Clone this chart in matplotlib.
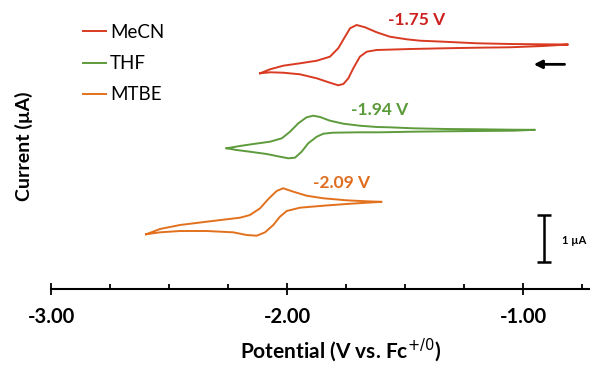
import matplotlib.pyplot as plt
from matplotlib.ticker import MultipleLocator, FixedLocator

plt.rcParams['font.family'] = ['Lato', 'DejaVu Sans']

# potentials (V vs Fc+/0) and currents (uA, with vertical offsets) read around each loop
mecn_v = [-2.114, -2.072, -2.016, -1.945, -1.874, -1.818, -1.783, -1.754, -1.733, -1.705,
          -1.669, -1.620, -1.564, -1.493, -1.436, -1.339, -1.196, -1.055, -0.915, -0.809,
          -0.915, -1.055, -1.196, -1.339, -1.479, -1.620, -1.662, -1.691, -1.719, -1.740,
          -1.761, -1.783, -1.818, -1.874, -1.945, -2.016, -2.072, -2.114]
mecn_i = [4.589, 4.674, 4.751, 4.802, 4.857, 4.943, 5.121, 5.368, 5.547, 5.617,
          5.568, 5.462, 5.368, 5.313, 5.283, 5.262, 5.228, 5.213, 5.206, 5.202,
          5.170, 5.143, 5.134, 5.121, 5.106, 5.085, 5.049, 4.943, 4.696, 4.483,
          4.362, 4.334, 4.389, 4.483, 4.568, 4.602, 4.611, 4.589]

thf_v = [-2.256, -2.199, -2.143, -2.072, -2.022, -1.987, -1.952, -1.917, -1.889, -1.860,
         -1.818, -1.761, -1.691, -1.620, -1.564, -1.465, -1.323, -1.182, -1.041, -0.949,
         -1.041, -1.182, -1.323, -1.465, -1.606, -1.691, -1.804, -1.846, -1.874, -1.910,
         -1.938, -1.966, -1.994, -2.030, -2.086, -2.157, -2.213, -2.256]
thf_i = [2.994, 3.043, 3.085, 3.134, 3.206, 3.347, 3.526, 3.653, 3.687, 3.660,
         3.581, 3.517, 3.474, 3.447, 3.440, 3.419, 3.404, 3.398, 3.389, 3.387,
         3.368, 3.362, 3.355, 3.347, 3.334, 3.334, 3.326, 3.304, 3.240, 3.100,
         2.921, 2.794, 2.781, 2.815, 2.872, 2.921, 2.957, 2.994]

mtbe_v = [-2.597, -2.538, -2.453, -2.340, -2.256, -2.199, -2.157, -2.114, -2.079, -2.044,
          -2.016, -1.973, -1.917, -1.846, -1.747, -1.662, -1.599,
          -1.662, -1.747, -1.846, -1.945, -2.001, -2.030, -2.058, -2.093, -2.128,
          -2.171, -2.228, -2.340, -2.453, -2.538, -2.597]
mtbe_i = [1.164, 1.277, 1.362, 1.432, 1.483, 1.517, 1.574, 1.717, 1.915, 2.085,
          2.143, 2.070, 1.985, 1.930, 1.887, 1.866, 1.855,
          1.836, 1.809, 1.772, 1.730, 1.660, 1.538, 1.362, 1.206, 1.134,
          1.149, 1.206, 1.234, 1.234, 1.206, 1.164]

labels = ['MeCN', 'THF', 'MTBE']
e_half = ['-1.75 V', '-1.94 V', '-2.09 V']
label_x = [-1.449, -1.606, -1.767]
label_y = [5.734, 3.81, 2.255]
line_colors = ['#D93B22', '#5E9B3C', '#E2711D']
text_colors = ['#CC1F1F', '#5B9A3A', '#E06C1E']

fig = plt.figure(figsize=(5.9, 3.66), dpi=100)
ax = fig.add_axes([51 / 590, 77 / 366, 539 / 590, 289 / 366])

curves = [(mecn_v, mecn_i), (thf_v, thf_i), (mtbe_v, mtbe_i)]
for (v, i), lab, c in zip(curves, labels, line_colors):
    ax.plot(v, i, color=c, lw=1.4, label=lab)

ax.set_xlim(-3.0, -0.716)
ax.set_ylim(0, 289 / 47)

# E1/2 labels
for x, y, s, c in zip(label_x, label_y, e_half, text_colors):
    ax.text(x, y, s, color=c, fontsize=12.5, fontweight='bold', ha='center', va='center')

# scan direction arrow
ax.annotate('', xy=(-0.966, 4.78), xytext=(-0.812, 4.78),
            arrowprops=dict(arrowstyle='-|>', color='black', lw=2, mutation_scale=12))

# 1 uA scale bar
ax.errorbar([-0.911], [1.074], yerr=[0.5], color='black', lw=1.8, capsize=5, capthick=1.8)
ax.text(-0.835, 1.04, '1 µA', fontsize=8, fontweight='bold', ha='left', va='center')

for s in ['left', 'top', 'right']:
    ax.spines[s].set_visible(False)
ax.spines['bottom'].set_linewidth(1.5)
ax.set_yticks([])
ax.xaxis.set_major_locator(FixedLocator([-3.0, -2.0, -1.0]))
ax.xaxis.set_minor_locator(MultipleLocator(0.25))
ax.set_xticklabels(['-3.00', '-2.00', '-1.00'])
ax.tick_params(axis='x', which='major', direction='inout', length=8, width=1.3, pad=9,
               labelsize=14.5)
ax.tick_params(axis='x', which='minor', direction='in', length=3.5, width=1.3)
for t in ax.get_xticklabels():
    t.set_fontweight('bold')

fig.text(341 / 590, 1 - 350 / 366, 'Potential (V vs. Fc$^{+/0}$)', fontsize=15, fontweight='bold',
         ha='center', va='center')
fig.text(24 / 590, 1 - 146 / 366, 'Current (µA)', fontsize=14, fontweight='bold',
         rotation=90, ha='center', va='center')

ax.legend(loc='upper left', bbox_to_anchor=(83 / 590, 1 - 24 / 366), bbox_transform=fig.transFigure,
          frameon=False, fontsize=13.5, handlelength=1.25, handletextpad=0.2, labelspacing=0.75,
          borderpad=0, borderaxespad=0)

fig.savefig('out.png', dpi=100)
